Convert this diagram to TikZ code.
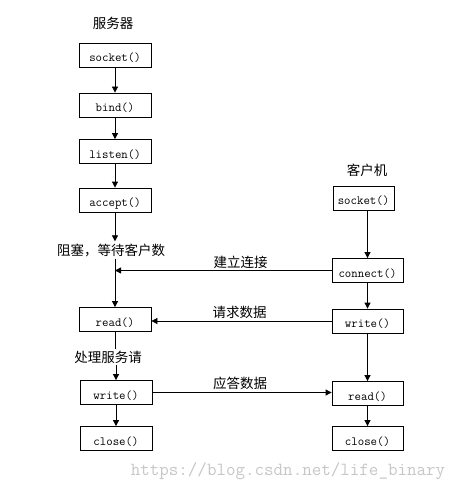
\documentclass[tikz,border=0pt]{standalone}
\usepackage{fontspec}
\newfontfamily\cjkfont{Noto Sans CJK SC}
\usepackage{tikz}
\usetikzlibrary{arrows.meta}

\tikzset{
    box/.style={draw, line width=0.8pt, minimum width=72pt, minimum height=24pt,
        inner sep=0pt, text height=13pt, text depth=0pt,
        font=\ttfamily\fontsize{12.5}{13}\selectfont},
    lbl/.style={font=\cjkfont\fontsize{13.5}{15}\selectfont, inner sep=2pt},
    link/.style={->, line width=0.8pt}
}

\begin{document}
\begin{tikzpicture}[x=1pt,y=-1pt,>={Triangle[length=6pt,width=6pt]}]

\useasboundingbox[fill=white] (0,0) rectangle (463,489);

% Server side
\node[lbl] (srvtitle) at (113,23) {服务器};
\node[box] (ssocket) at (115,55.5) {socket()};
\node[box] (sbind) at (115,105) {bind()};
\node[box] (slisten) at (115,151.5) {listen()};
\node[box] (saccept) at (115,200) {accept()};
\node[lbl] (sblock) at (111,250) {阻塞，等待客户数};
\node[box] (sread) at (115,319.5) {read()};
\node[lbl] (shandle) at (108,357) {处理服务请};
\node[box] (swrite) at (116,392.5) {write()};
\node[box] (sclose) at (116,438.5) {close()};

\draw[link] (ssocket) -- (sbind);
\draw[link] (sbind) -- (slisten);
\draw[link] (slisten) -- (saccept);
\draw[link] (saccept) -- (sblock.north -| saccept);
\draw[link] (sblock.south -| sread) -- (sread);
\draw[line width=0.8pt] (sread.south) -- (shandle.north -| sread);
\draw[link] (shandle.south -| swrite) -- (swrite);
\draw[link] (swrite) -- (sclose);

% Client side
\node[lbl] (clititle) at (367,170) {客户机};
\node[box, minimum width=61pt] (csocket) at (363.5,198) {socket()};
\node[box, minimum width=71pt] (cconnect) at (367.5,270.5) {connect()};
\node[box, minimum width=71pt] (cwrite) at (367.5,321) {write()};
\node[box, minimum width=71pt] (cread) at (367.5,393.5) {read()};
\node[box, minimum width=71pt] (cclose) at (367.5,438.5) {close()};

\draw[link] (csocket.south -| cconnect) -- (cconnect);
\draw[link] (cconnect) -- (cwrite);
\draw[link] (cwrite) -- (cread);
\draw[link] (cread) -- (cclose);

% Messages
\draw[link] (cconnect.west) -- (cconnect.west -| sread) node[lbl, pos=0.42, above=-1pt] (lconnect) {建立连接};
\draw[link] (cwrite.west) -- (cwrite.west -| sread.east) node[lbl, pos=0.51, above=0pt] (lrequest) {请求数据};
\draw[link] (swrite.east) -- (swrite.east -| cread.west) node[lbl, pos=0.49, above=0pt] (lreply) {应答数据};

% Watermark
\node[font=\ttfamily\fontsize{18.5}{20}\selectfont, text=black!22] (mark) at (288,471) {https://blog.csdn.net/life\_binary};

\end{tikzpicture}
\end{document}
